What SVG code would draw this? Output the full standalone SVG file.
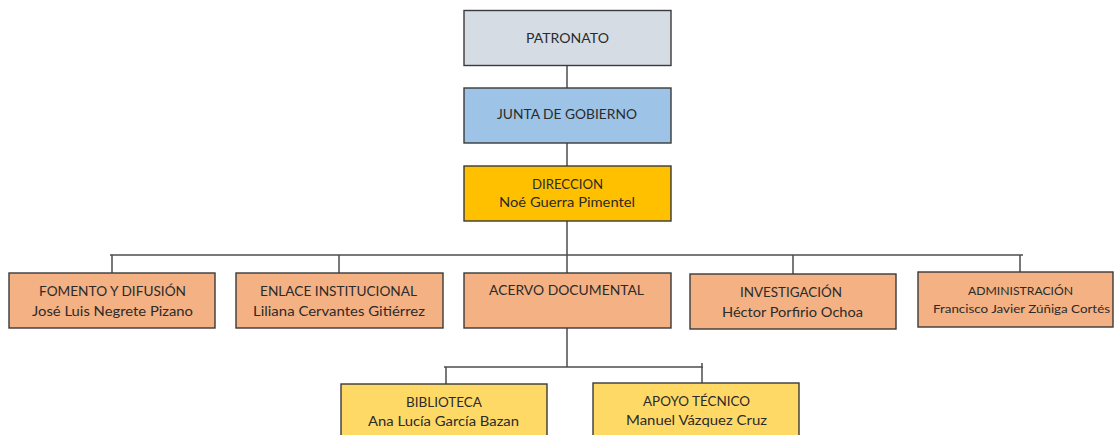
<svg xmlns="http://www.w3.org/2000/svg" width="1117" height="435" viewBox="0 0 1117 435">
<style>
.box{stroke:#3a3a3a;stroke-width:1.4}
.gray{fill:#d6dce4}
.blue{fill:#9dc3e6}
.gold{fill:#ffc000}
.orange{fill:#f4b183}
.yellow{fill:#ffd966}
.conn{stroke:#4d4d4d;stroke-width:1.5;fill:none}
text{font-family:Lato,"Open Sans","Liberation Sans",sans-serif;font-size:13.5px;fill:#2b2b2b;text-anchor:middle}
.sm{font-size:12px}
</style>
<rect width="1117" height="435" fill="#ffffff"/>
<g id="connectors">
<path class="conn" d="M567,65V88M567,143V166M567,221V273"/>
<path class="conn" d="M110,255H1023"/>
<path class="conn" d="M112,255V273M339,255V273M793,255V274M1020,255V272"/>
<path class="conn" d="M567,328V367M444,367H703M446,367V384M702,363V383"/>
</g>
<g id="patronato">
<rect class="box gray" x="464" y="10.5" width="207" height="55"/>
<text x="567.5" y="43" textLength="83" lengthAdjust="spacingAndGlyphs">PATRONATO</text>
</g>
<g id="junta">
<rect class="box blue" x="464" y="88" width="207" height="55"/>
<text x="567" y="119" textLength="140" lengthAdjust="spacingAndGlyphs">JUNTA DE GOBIERNO</text>
</g>
<g id="direccion">
<rect class="box gold" x="464" y="166" width="207" height="55"/>
<text x="567.5" y="189" textLength="71" lengthAdjust="spacingAndGlyphs">DIRECCION</text>
<text x="567" y="207" textLength="136" lengthAdjust="spacingAndGlyphs">Noé Guerra Pimentel</text>
</g>
<g id="fomento">
<rect class="box orange" x="9" y="273" width="206" height="55"/>
<text x="112.5" y="296" textLength="147" lengthAdjust="spacingAndGlyphs">FOMENTO Y DIFUSIÓN</text>
<text x="112.5" y="316" textLength="161" lengthAdjust="spacingAndGlyphs">José Luis Negrete Pizano</text>
</g>
<g id="enlace">
<rect class="box orange" x="236" y="273" width="207" height="55"/>
<text x="338.5" y="296" textLength="157" lengthAdjust="spacingAndGlyphs">ENLACE INSTITUCIONAL</text>
<text x="339" y="316" textLength="172" lengthAdjust="spacingAndGlyphs">Liliana Cervantes Gitiérrez</text>
</g>
<g id="acervo">
<rect class="box orange" x="464" y="273" width="207" height="55"/>
<text x="566.5" y="295" textLength="155" lengthAdjust="spacingAndGlyphs">ACERVO DOCUMENTAL</text>
</g>
<g id="investigacion">
<rect class="box orange" x="690" y="274" width="206" height="55"/>
<text x="791" y="297" textLength="102" lengthAdjust="spacingAndGlyphs">INVESTIGACIÓN</text>
<text x="792.5" y="317" textLength="141" lengthAdjust="spacingAndGlyphs">Héctor Porfirio Ochoa</text>
</g>
<g id="administracion">
<rect class="box orange" x="918" y="272" width="195" height="55"/>
<text class="sm" x="1020.5" y="295" textLength="105" lengthAdjust="spacingAndGlyphs">ADMINISTRACIÓN</text>
<text class="sm" x="1021.5" y="313" textLength="177" lengthAdjust="spacingAndGlyphs">Francisco Javier Zúñiga Cortés</text>
</g>
<g id="biblioteca">
<rect class="box yellow" x="341" y="384" width="206" height="60"/>
<text x="444" y="407" textLength="76" lengthAdjust="spacingAndGlyphs">BIBLIOTECA</text>
<text x="443.5" y="426" textLength="151" lengthAdjust="spacingAndGlyphs">Ana Lucía García Bazan</text>
</g>
<g id="apoyo">
<rect class="box yellow" x="593" y="383" width="206" height="60"/>
<text x="696.5" y="406" textLength="107" lengthAdjust="spacingAndGlyphs">APOYO TÉCNICO</text>
<text x="696.5" y="425" textLength="141" lengthAdjust="spacingAndGlyphs">Manuel Vázquez Cruz</text>
</g>
</svg>
